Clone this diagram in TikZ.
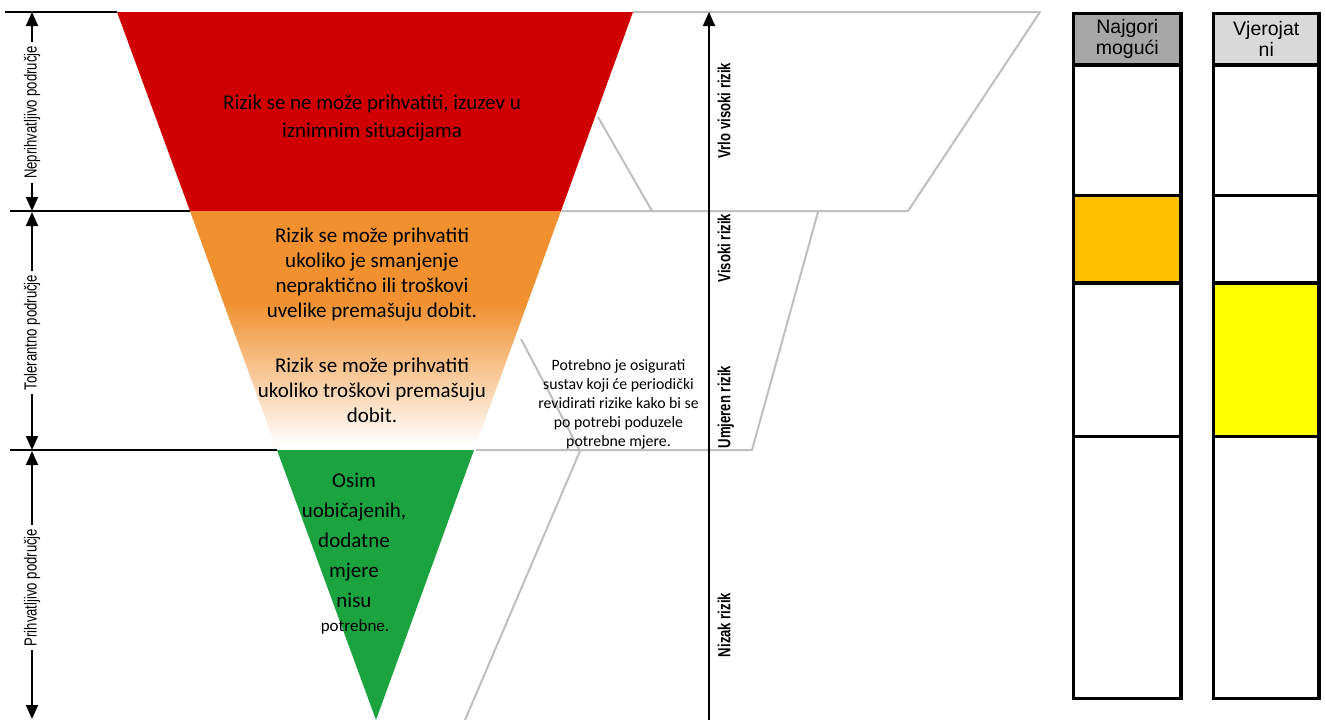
\documentclass[tikz,border=0pt]{standalone}
\usepackage{fontspec}
\setmainfont{Carlito}
\newfontfamily\arialf{Liberation Sans}
\usetikzlibrary{arrows.meta}
\definecolor{redC}{HTML}{D10000}
\definecolor{orangeC}{HTML}{F0902F}
\definecolor{greenC}{HTML}{1BA33F}
\definecolor{grayL}{HTML}{BFBFBF}
\definecolor{hdrA}{HTML}{A6A6A6}
\definecolor{hdrB}{HTML}{D9D9D9}
\definecolor{amberC}{HTML}{FFC000}
\definecolor{yellowC}{HTML}{FFFF00}
\pgfdeclareverticalshading{orangefade}{100bp}{color(0bp)=(white); color(26bp)=(white); color(56bp)=(orangeC); color(100bp)=(orangeC)}
\begin{document}
\begin{tikzpicture}[x=1pt,y=-1pt,
  tritext/.style={font=\fontsize{21}{25}\selectfont, align=center, text=black, inner sep=0pt},
  sidelbl/.style={rotate=90, font=\arialf\fontsize{17.5}{17}\selectfont, inner sep=4pt},
  risklbl/.style={rotate=90, anchor=north, font=\arialf\bfseries\fontsize{17.5}{17}\selectfont, inner sep=0pt},
  arr/.style={line width=1.8pt, -{Triangle[width=12pt,length=14pt]}},
  blackline/.style={line width=1.5pt},
  grayline/.style={line width=2pt, grayL, line join=round},
  colcell/.style={draw=black, line width=3.8pt, minimum width=107.5pt, inner sep=0pt, font=\arialf\fontsize{19.5}{21}\selectfont, align=center},
  colcellb/.style={colcell, minimum width=105.5pt}
]
\useasboundingbox (0,0) rectangle (1326,720);
\fill[white] (0,0) rectangle (1326,720);

% triangle
\fill[redC] (117,12) -- (633,12) -- (561,211) -- (190,211) -- cycle;
\shade[shading=orangefade] (190,211) -- (561,211) -- (474,450) -- (277,450) -- cycle;
\fill[greenC] (277,450) -- (474,450) -- (376,720) -- cycle;

% gray guide lines
\draw[grayline] (633,12) -- (1040,12) -- (908,211) -- (561,211);
\draw[grayline] (598,117) -- (652,211);
\draw[grayline] (818,212) -- (752,450) -- (476,450);
\draw[grayline] (521,339) -- (580,451) -- (465,720);

% black level lines
\draw[blackline] (5,12) -- (117,12);
\draw[blackline] (10,211) -- (190,211);
\draw[blackline] (10,450) -- (277,450);

% left region labels and arrows
\coordinate (l1t) at (32,12);
\coordinate (l1b) at (32,211);
\coordinate (l2t) at (32,212);
\coordinate (l2b) at (32,450);
\coordinate (l3t) at (32,451);
\coordinate (l3b) at (32,719);
\node[sidelbl] (lab1) at (32,112.5) {\scalebox{0.75}[1]{Neprihvatljivo područje}};
\node[sidelbl] (lab2) at (32,332.5) {\scalebox{0.75}[1]{Tolerantno područje}};
\node[sidelbl] (lab3) at (32,587.5) {\scalebox{0.75}[1]{Prihvatljivo područje}};
\draw[arr] (lab1.east) -- (l1t);
\draw[arr] (lab1.west) -- (l1b);
\draw[arr] (lab2.east) -- (l2t);
\draw[arr] (lab2.west) -- (l2b);
\draw[arr] (lab3.east) -- (l3t);
\draw[arr] (lab3.west) -- (l3b);

% right risk axis
\coordinate (axb) at (709,720);
\coordinate (axt) at (709,12);
\draw[arr] (axb) -- (axt);
\node[risklbl] (r1) at (717.5,110.5) {\scalebox{0.75}[1]{Vrlo visoki rizik}};
\node[risklbl] (r2) at (717.5,248) {\scalebox{0.75}[1]{Visoki rizik}};
\node[risklbl] (r3) at (717.5,407) {\scalebox{0.75}[1]{Umjeren rizik}};
\node[risklbl] (r4) at (717.5,625) {\scalebox{0.75}[1]{Nizak rizik}};

% triangle texts
\node[tritext, font=\fontsize{21}{28.7}\selectfont] (tred) at (372,118) {Rizik se ne može prihvatiti, izuzev u\\iznimnim situacijama};
\node[tritext] (tor1) at (372,275) {Rizik se može prihvatiti\\ukoliko je smanjenje\\nepraktično ili troškovi\\uvelike premašuju dobit.};
\node[tritext] (tor2) at (372,390.5) {Rizik se može prihvatiti\\ukoliko troškovi premašuju\\dobit.};
\node[tritext, font=\fontsize{21}{30}\selectfont] (tgr) at (354,540) {Osim\\uobičajenih,\\dodatne\\mjere\\nisu};
\node[tritext, font=\fontsize{17}{20}\selectfont] (tgr2) at (355,627) {potrebne.};
\node[tritext, font=\fontsize{15.8}{19}\selectfont] (tmid) at (618.5,404) {Potrebno je osigurati\\sustav koji će periodički\\revidirati rizike kako bi se\\po potrebi poduzele\\potrebne mjere.};

% columns
\node[colcell, fill=hdrA, minimum height=51.5pt] (c1h) at (1127.25,39.25) {Najgori\\mogući};
\node[colcell, minimum height=130.5pt] (c1a) at (1127.25,130.25) {};
\node[colcell, fill=amberC, minimum height=87.5pt] (c1b) at (1127.25,239.25) {};
\node[colcell, minimum height=153.5pt] (c1c) at (1127.25,359.75) {};
\node[colcell, minimum height=262pt] (c1d) at (1127.25,567.5) {};
\node[colcellb, fill=hdrB, minimum height=51.5pt] (c2h) at (1266.25,39.25) {Vjerojat\\ni};
\node[colcellb, minimum height=130.5pt] (c2a) at (1266.25,130.25) {};
\node[colcellb, minimum height=87.5pt] (c2b) at (1266.25,239.25) {};
\node[colcellb, fill=yellowC, minimum height=153.5pt] (c2c) at (1266.25,359.75) {};
\node[colcellb, minimum height=262pt] (c2d) at (1266.25,567.5) {};
\end{tikzpicture}
\end{document}
